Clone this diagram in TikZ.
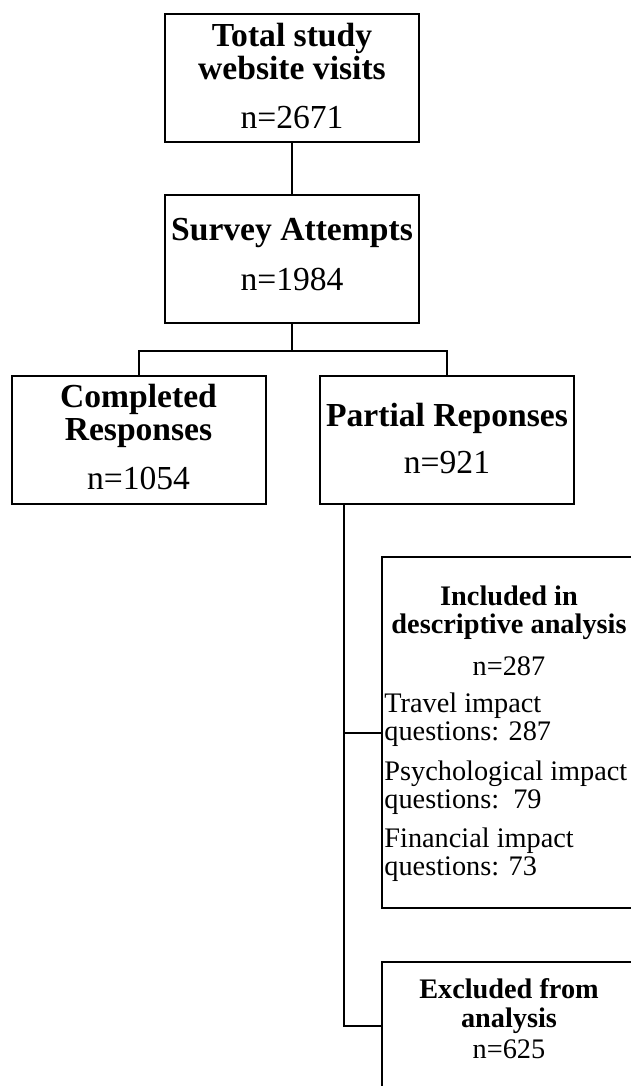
\documentclass[tikz,border=0pt]{standalone}
\usepackage{fontspec}
\setmainfont{Liberation Serif}
\usetikzlibrary{calc}
\begin{document}
\begin{tikzpicture}[x=0.5pt,y=-0.5pt,
  box/.style={draw, line width=1pt, rectangle, inner sep=0pt, minimum width=127pt, minimum height=64pt},
  big/.style={font=\fontsize{16.8}{20}\selectfont, inner sep=0pt, anchor=base},
  bigb/.style={font=\fontsize{16.8}{20}\selectfont\bfseries, inner sep=0pt, anchor=base},
  sm/.style={font=\fontsize{14.15}{17}\selectfont, inner sep=0pt, anchor=base},
  smb/.style={font=\fontsize{14.15}{17}\selectfont\bfseries, inner sep=0pt, anchor=base},
  sml/.style={font=\fontsize{14.15}{17}\selectfont, inner sep=0pt, anchor=base west},
  conn/.style={line width=1pt}]
\useasboundingbox (0,0) rectangle (631,1086);
\clip (0,0) rectangle (631,1086);
\fill[white] (0,0) rectangle (631,1086);
% boxes
\node[box] (total) at (292,78) {};
\node[box] (survey) at (292,258.5) {};
\node[box] (comp) at (138.5,440) {};
\node[box] (part) at (447,440) {};
\node[box, minimum height=175.5pt] (incl) at (509,732.5) {};
\node[box] (excl) at (509,1026) {};
% texts
\node[bigb] (t1) at (292,47) {Total study};
\node[bigb] (t2) at (292,80) {website visits};
\node[big] (t3) at (292,128) {n=2671};
\node[bigb] (s1) at (292,240) {Survey Attempts};
\node[big] (s2) at (292,290) {n=1984};
\node[bigb] (c1) at (138.5,407) {Completed};
\node[bigb] (c2) at (138.5,440) {Responses};
\node[big] (c3) at (138.5,489) {n=1054};
\node[bigb] (p1) at (447,426) {Partial Reponses};
\node[big] (p2) at (447,473) {n=921};
\node[smb] (i1) at (509,605) {Included in};
\node[smb] (i2) at (509,633) {descriptive analysis};
\node[sm] (i3) at (509,675) {n=287};
\node[sml] (i4) at (384,712) {Travel impact};
\node[sml] (i5) at (384,740) {questions: 287};
\node[sml] (i6) at (384,780) {Psychological impact};
\node[sml] (i7) at (384,808) {questions:\ \ 79};
\node[sml] (i8) at (384,847) {Financial impact};
\node[sml] (i9) at (384,875) {questions: 73};
\node[smb] (e1) at (509,998) {Excluded from};
\node[smb] (e2) at (509,1027) {analysis};
\node[sm] (e3) at (509,1058) {n=625};
% connectors
\draw[conn] (total.south) -- (survey.north);
\draw[conn] (survey.south) -- ++(0,27) coordinate (split);
\draw[conn] (comp.north) |- (split) -| (part.north);
\coordinate (ps) at ($(part.south west)+(25,0)$);
\draw[conn] (ps) |- (excl.west);
\draw[conn] (ps) |- (incl.west);
\end{tikzpicture}
\end{document}
